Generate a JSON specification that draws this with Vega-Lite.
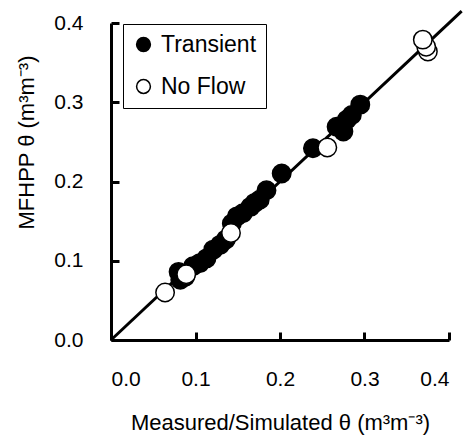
{
  "$schema": "https://vega.github.io/schema/vega-lite/v6.json",
  "width": 338,
  "height": 317,
  "autosize": {"type": "none"},
  "padding": {"left": 111, "top": 23, "right": 15, "bottom": 97},
  "background": "white",
  "config": {
    "view": {"stroke": null},
    "font": "Liberation Sans",
    "axis": {
      "domainColor": "black",
      "domainWidth": 3,
      "tickColor": "black",
      "tickWidth": 3,
      "tickSize": -8,
      "grid": false,
      "labelFont": "Liberation Sans",
      "labelFontSize": 21,
      "labelColor": "black",
      "titleFont": "Liberation Sans",
      "titleFontSize": 22,
      "titleFontWeight": "normal",
      "titleColor": "black"
    },
    "axisX": {"labelPadding": 36, "titleY": 89, "titleBaseline": "alphabetic"},
    "axisY": {"labelPadding": 36, "titleX": -85, "titleY": 119, "titleBaseline": "middle", "titleAlign": "center"},
    "legend": {
      "strokeColor": "black",
      "fillColor": "white",
      "padding": 9,
      "rowPadding": 18,
      "labelFont": "Liberation Sans",
      "labelFontSize": 23,
      "labelColor": "black",
      "labelOffset": 6,
      "symbolType": "circle",
      "symbolSize": 190,
      "symbolStrokeColor": "black",
      "symbolStrokeWidth": 1.5
    }
  },
  "datasets": {
    "line": [{"x": 0, "y": 0}, {"x": 0.415, "y": 0.415}],
    "pts": [
      {"x": 0.080, "y": 0.086, "series": "Transient"},
      {"x": 0.082, "y": 0.076, "series": "Transient"},
      {"x": 0.088, "y": 0.080, "series": "Transient"},
      {"x": 0.097, "y": 0.093, "series": "Transient"},
      {"x": 0.105, "y": 0.097, "series": "Transient"},
      {"x": 0.113, "y": 0.103, "series": "Transient"},
      {"x": 0.121, "y": 0.114, "series": "Transient"},
      {"x": 0.129, "y": 0.120, "series": "Transient"},
      {"x": 0.136, "y": 0.127, "series": "Transient"},
      {"x": 0.143, "y": 0.147, "series": "Transient"},
      {"x": 0.149, "y": 0.156, "series": "Transient"},
      {"x": 0.156, "y": 0.160, "series": "Transient"},
      {"x": 0.165, "y": 0.168, "series": "Transient"},
      {"x": 0.170, "y": 0.173, "series": "Transient"},
      {"x": 0.176, "y": 0.177, "series": "Transient"},
      {"x": 0.184, "y": 0.189, "series": "Transient"},
      {"x": 0.202, "y": 0.210, "series": "Transient"},
      {"x": 0.239, "y": 0.242, "series": "Transient"},
      {"x": 0.267, "y": 0.269, "series": "Transient"},
      {"x": 0.275, "y": 0.263, "series": "Transient"},
      {"x": 0.279, "y": 0.278, "series": "Transient"},
      {"x": 0.285, "y": 0.284, "series": "Transient"},
      {"x": 0.295, "y": 0.297, "series": "Transient"},
      {"x": 0.064, "y": 0.060, "series": "No Flow"},
      {"x": 0.089, "y": 0.083, "series": "No Flow"},
      {"x": 0.142, "y": 0.135, "series": "No Flow"},
      {"x": 0.256, "y": 0.243, "series": "No Flow"},
      {"x": 0.375, "y": 0.364, "series": "No Flow"},
      {"x": 0.373, "y": 0.370, "series": "No Flow"},
      {"x": 0.369, "y": 0.379, "series": "No Flow"}
    ]
  },
  "layer": [
    {
      "data": {"name": "line"},
      "mark": {"type": "line", "color": "black", "strokeWidth": 3, "clip": false},
      "encoding": {
        "x": {"field": "x", "type": "quantitative", "scale": {"domain": [0, 0.4], "nice": false, "zero": true}, "title": "Measured/Simulated θ (m³m⁻³)", "axis": {"values": [0, 0.1, 0.2, 0.3, 0.4], "format": ".1f"}},
        "y": {"field": "y", "type": "quantitative", "scale": {"domain": [0, 0.4], "nice": false, "zero": true}, "title": "MFHPP θ (m³m⁻³)", "axis": {"values": [0, 0.1, 0.2, 0.3, 0.4], "format": ".1f"}}
      }
    },
    {
      "data": {"name": "pts"},
      "mark": {"type": "circle", "size": 340, "stroke": "black", "strokeWidth": 1.5, "opacity": 1},
      "encoding": {
        "x": {"field": "x", "type": "quantitative"},
        "y": {"field": "y", "type": "quantitative"},
        "fill": {
          "field": "series",
          "type": "nominal",
          "scale": {"domain": ["Transient", "No Flow"], "range": ["black", "white"]},
          "legend": {"title": null, "orient": "none", "legendX": 12, "legendY": 1}
        }
      }
    }
  ]
}
